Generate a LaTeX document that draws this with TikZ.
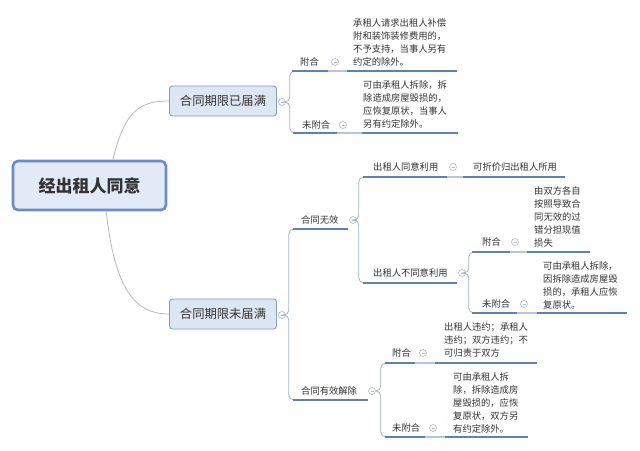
\documentclass[tikz,border=0pt]{standalone}
\usepackage{fontspec}
\setmainfont{Noto Sans CJK SC}
\usetikzlibrary{calc}
\definecolor{rootc}{HTML}{6A8CC8}
\definecolor{rootfill}{HTML}{E2EAF6}
\definecolor{boxc}{HTML}{7E9CCF}
\definecolor{boxfill}{HTML}{DDE6F3}
\definecolor{ulc}{HTML}{5F7FB8}
\definecolor{connc}{HTML}{A6B2C6}
\definecolor{bridgec}{HTML}{B9C5D8}
\definecolor{linkc}{HTML}{B5BAC4}
\definecolor{txtc}{HTML}{333333}
\definecolor{foldc}{HTML}{B0B9C8}
\tikzset{
 rootbox/.style={draw=rootc, line width=2.6pt, fill=rootfill, rounded corners=5pt, minimum width=153pt, minimum height=49pt, inner sep=0pt, font=\fontsize{17}{20}\selectfont\bfseries, text=txtc},
 mainbox/.style={draw=boxc, line width=0.9pt, fill=boxfill, rounded corners=3pt, minimum width=107pt, minimum height=30pt, inner sep=0pt, font=\fontsize{12.3}{15}\selectfont, text=txtc},
 lbl/.style={inner sep=0pt, anchor=west, font=\fontsize{9.3}{13}\selectfont, text=txtc},
 leaf/.style={lbl, align=left},
 ul/.style={draw=ulc, line width=1.8pt},
 bridge/.style={draw=bridgec, line width=1.4pt},
 conn/.style={draw=connc, line width=0.8pt, rounded corners=5pt},
 link/.style={draw=linkc, line width=0.8pt},
 fold/.style={circle, draw=foldc, line width=0.6pt, minimum size=7pt, inner sep=0pt, fill=white,
   path picture={\draw[foldc, line width=0.35pt] ([xshift=-1.5pt]path picture bounding box.center) -- ([xshift=1.5pt]path picture bounding box.center);}},
}
\begin{document}
\begin{tikzpicture}[x=1pt,y=-1pt]
\useasboundingbox (0,0) rectangle (640,450);
\fill[white] (0,0) rectangle (640,450);

% main nodes
\node[rootbox] (root) at (89.5,185.5) {经出租人同意};
\node[mainbox] (b1) at (223,101) {合同期限已届满};
\node[mainbox] (b2) at (223,314) {合同期限未届满};

\draw[link] ($(root.north west)!0.65!(root.north east)$) .. controls (125,110) and (140,101) .. (b1.west);
\draw[link] ($(root.south west)!0.607!(root.south east)$) .. controls (115,290) and (135,314) .. (b2.west);

% fold circles
\node[fold] (c1) at (282,102) {};
\node[fold] (c2) at (282,315) {};

% ---- branch 1 ----
\node[lbl] (n11) at (300,62) {附合};
\node[fold] (c11) at (335,62) {};
\node[leaf] (l11) at (353,42.6) {承租人请求出租人补偿\\附和装饰装修费用的，\\不予支持，当事人另有\\约定的除外。};
\coordinate (u11s) at (292,71); \coordinate (u11e) at (328,71);
\coordinate (v11s) at (347,71); \coordinate (v11e) at (457,71);

\node[lbl] (n12) at (302,125) {未附合};
\node[fold] (c12) at (343,125) {};
\node[leaf] (l12) at (363,104) {可由承租人拆除，拆\\除造成房屋毁损的，\\应恢复原状，当事人\\另有约定除外。};
\coordinate (u12s) at (293,133); \coordinate (u12e) at (337,133);
\coordinate (v12s) at (362,133); \coordinate (v12e) at (458,133);

% ---- branch 2 ----
\node[lbl] (n21) at (301,220) {合同无效};
\node[fold] (c21) at (353,220) {};
\coordinate (u21s) at (293,229); \coordinate (u21e) at (348,229);

\node[lbl] (n22) at (301,391) {合同有效解除};
\node[fold] (c22) at (372,391) {};
\coordinate (u22s) at (293,400); \coordinate (u22e) at (368,400);

\node[lbl] (n211) at (373,167) {出租人同意利用};
\node[fold] (c211) at (453,167) {};
\node[lbl] (l211) at (473,167) {可折价归出租人所用};
\coordinate (u211s) at (363,177); \coordinate (u211e) at (447,177);
\coordinate (v211s) at (463,177); \coordinate (v211e) at (565,177);

\node[lbl] (n212) at (373,273) {出租人不同意利用};
\node[fold] (c212) at (462,273) {};
\coordinate (u212s) at (363,283); \coordinate (u212e) at (457,283);

\node[lbl] (n2121) at (482,242) {附合};
\node[fold] (c2121) at (515,242) {};
\node[leaf] (l2121) at (534,216.5) {由双方各自\\按照导致合\\同无效的过\\错分担现值\\损失};
\coordinate (u2121s) at (472,252); \coordinate (u2121e) at (510,252);
\coordinate (v2121s) at (527,252); \coordinate (v2121e) at (590,252);

\node[lbl] (n2122) at (482,304) {未附合};
\node[fold] (c2122) at (524,304) {};
\node[leaf] (l2122) at (543,285) {可由承租人拆除，\\因拆除造成房屋毁\\损的，承租人应恢\\复原状。};
\coordinate (u2122s) at (472,313); \coordinate (u2122e) at (517,313);
\coordinate (v2122s) at (537,313); \coordinate (v2122e) at (627,313);

\node[lbl] (n221) at (392,353) {附合};
\node[fold] (c221) at (423,353) {};
\node[leaf] (l221) at (444,340) {出租人违约；承租人\\违约；双方违约；不\\可归责于双方};
\coordinate (u221s) at (385,363); \coordinate (u221e) at (415,363);
\coordinate (v221s) at (435,363); \coordinate (v221e) at (537,363);

\node[lbl] (n222) at (392,428) {未附合};
\node[fold] (c222) at (433,428) {};
\node[leaf] (l222) at (453,402.5) {可由承租人拆\\除，拆除造成房\\屋毁损的，应恢\\复原状，双方另\\有约定除外。};
\coordinate (u222s) at (385,437); \coordinate (u222e) at (425,437);
\coordinate (v222s) at (445,437); \coordinate (v222e) at (528,437);

% bracket connectors
\draw[conn] (c1.east) -- ++(4,0) |- (u11s);
\draw[conn] (c1.east) -- ++(4,0) |- (u12s);
\draw[conn] (c2.east) -- ++(3,0) |- (u21s);
\draw[conn] (c2.east) -- ++(3,0) |- (u22s);
\draw[conn] (c21.east) -- ++(2,0) |- (u211s);
\draw[conn] (c21.east) -- ++(2,0) |- (u212s);
\draw[conn] (c212.east) -- ++(3,0) |- (u2121s);
\draw[conn] (c212.east) -- ++(3,0) |- (u2122s);
\draw[conn] (c22.east) -- ++(5,0) |- (u221s);
\draw[conn] (c22.east) -- ++(5,0) |- (u222s);

% bridges parent -> leaf
\foreach \k in {11,12,211,2121,2122,221,222}{
  \draw[bridge] (u\k e) -- (v\k s);
}
% underlines
\foreach \k in {11,12,21,22,211,212,2121,2122,221,222}{
  \draw[ul] (u\k s) -- (u\k e);
}
\foreach \k in {11,12,211,2121,2122,221,222}{
  \draw[ul] (v\k s) -- (v\k e);
}
\end{tikzpicture}
\end{document}
